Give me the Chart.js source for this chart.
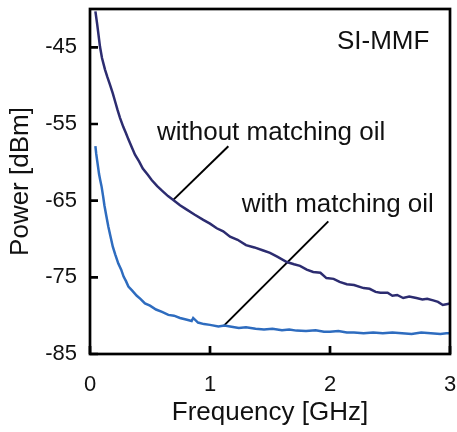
<!DOCTYPE html>
<html>
<head>
<meta charset="utf-8">
<script src="https://cdn.jsdelivr.net/npm/chart.js@4/dist/chart.umd.min.js"></script>
<style>
  html, body { margin: 0; padding: 0; background: #fff; }
  #wrap { width: 457px; height: 432px; }
</style>
</head>
<body>
<div id="wrap"><canvas id="chart" width="457" height="432"></canvas></div>
<script>
// Frequency [GHz] / Power [dBm]
const freqWithout = [0.045, 0.06, 0.072, 0.083, 0.1, 0.125, 0.145, 0.167, 0.19, 0.21, 0.23, 0.25, 0.278, 0.3, 0.32, 0.35, 0.375,
  0.41, 0.44, 0.48, 0.514, 0.56, 0.6, 0.65, 0.694, 0.75, 0.8, 0.87, 0.944, 1.0, 1.056, 1.11, 1.167, 1.23, 1.3, 1.37, 1.444,
  1.5, 1.56, 1.64, 1.7, 1.75, 1.806, 1.86, 1.92, 1.97, 2.03, 2.08, 2.14, 2.2, 2.28, 2.33, 2.38, 2.42, 2.48, 2.52, 2.56,
  2.61, 2.66, 2.72, 2.77, 2.81, 2.86, 2.9, 2.94, 2.97, 3.0];
const powerWithout = [-40.3, -42.0, -43.5, -44.9, -46.4, -47.9, -48.9, -49.9, -51.0, -52.1, -53.2, -54.2, -55.4, -56.2, -57.0, -58.1, -59.0,
  -59.9, -60.8, -61.6, -62.3, -63.1, -63.7, -64.4, -64.9, -65.6, -66.1, -66.8, -67.5, -68.0, -68.6, -69.0, -69.7, -70.1, -70.8, -71.1, -71.5,
  -71.8, -72.3, -73.0, -73.3, -73.5, -74.0, -74.3, -74.4, -75.1, -75.2, -75.6, -75.9, -76.0, -76.4, -76.5, -76.9, -77.0, -77.0, -77.4, -77.3,
  -77.7, -77.5, -77.7, -77.9, -77.8, -78.0, -78.2, -78.6, -78.5, -78.4];

const freqWith = [0.045, 0.052, 0.06, 0.068, 0.075, 0.085, 0.097, 0.11, 0.12, 0.135, 0.153, 0.17, 0.19, 0.21, 0.236, 0.26, 0.28, 0.3,
  0.32, 0.35, 0.39, 0.42, 0.458, 0.5, 0.55, 0.6, 0.653, 0.7, 0.75, 0.8, 0.847, 0.86, 0.9, 0.95, 1.0, 1.07, 1.12, 1.167, 1.24,
  1.3, 1.38, 1.45, 1.52, 1.6, 1.66, 1.72, 1.8, 1.88, 1.95, 2.0, 2.07, 2.14, 2.2, 2.28, 2.36, 2.44, 2.52, 2.6, 2.68, 2.76,
  2.84, 2.92, 2.97, 3.0];
const powerWith = [-57.9, -58.9, -59.8, -60.7, -61.5, -62.3, -63.2, -64.5, -65.6, -66.9, -68.4, -69.6, -71.0, -72.0, -73.2, -74.0, -74.9, -75.5,
  -76.2, -76.7, -77.4, -77.8, -78.4, -78.7, -79.2, -79.5, -79.9, -80.0, -80.3, -80.5, -80.7, -80.3, -80.9, -81.1, -81.2, -81.4, -81.3, -81.4, -81.6,
  -81.5, -81.7, -81.8, -81.7, -81.9, -81.8, -81.95, -82.0, -81.9, -82.1, -82.1, -82.0, -82.2, -82.2, -82.3, -82.2, -82.3, -82.2, -82.3, -82.4, -82.2,
  -82.3, -82.4, -82.3, -82.3];

const xTicks = [0, 1, 2, 3];
const yTicks = [-85, -75, -65, -55, -45];

// leader lines and labels (data coords)
const leaderWithout = [[0.694, -64.9], [1.153, -57.9]];
const leaderWith = [[1.11, -81.4], [1.986, -67.7]];
const labels = [
  { text: 'without matching oil', x: 0.558, y: -57.1, align: 'left' },
  { text: 'with matching oil', x: 1.264, y: -66.5, align: 'left' },
  { text: 'SI-MMF', x: 2.828, y: -45.2, align: 'right' }
];

const FONT = "'Liberation Sans', Arial, sans-serif";

function toPoints(xs, ys) {
  return xs.map((x, i) => ({ x: x, y: ys[i] }));
}

const frame = {
  id: 'frame',
  afterDatasetsDraw(chart) {
    const { ctx, chartArea: a, scales } = chart;
    ctx.save();
    ctx.strokeStyle = '#000';
    ctx.lineWidth = 2.7;
    ctx.strokeRect(a.left, a.top, a.right - a.left, a.bottom - a.top);
    // inward ticks
    ctx.beginPath();
    xTicks.forEach(v => {
      const px = scales.x.getPixelForValue(v);
      ctx.moveTo(px, a.bottom);
      ctx.lineTo(px, a.bottom - 8);
    });
    yTicks.forEach(v => {
      const py = scales.y.getPixelForValue(v);
      ctx.moveTo(a.left, py);
      ctx.lineTo(a.left + 8, py);
    });
    ctx.stroke();
    // labels
    ctx.fillStyle = '#111';
    ctx.font = '26px ' + FONT;
    ctx.textBaseline = 'alphabetic';
    labels.forEach(l => {
      ctx.textAlign = l.align;
      ctx.fillText(l.text, scales.x.getPixelForValue(l.x), scales.y.getPixelForValue(l.y));
    });
    ctx.restore();
  }
};

new Chart(document.getElementById('chart'), {
  type: 'scatter',
  data: {
    datasets: [
      { data: toPoints(freqWithout, powerWithout), borderColor: '#2c2c70', borderWidth: 2.5, showLine: true, pointRadius: 0, tension: 0 },
      { data: toPoints(freqWith, powerWith), borderColor: '#2e6cbf', borderWidth: 2.5, showLine: true, pointRadius: 0, tension: 0 },
      { data: leaderWithout.map(p => ({ x: p[0], y: p[1] })), borderColor: '#000', borderWidth: 2, showLine: true, pointRadius: 0 },
      { data: leaderWith.map(p => ({ x: p[0], y: p[1] })), borderColor: '#000', borderWidth: 2, showLine: true, pointRadius: 0 }
    ]
  },
  options: {
    responsive: false,
    animation: false,
    layout: { padding: { top: 9, right: 7, left: 0, bottom: 0 } },
    plugins: { legend: { display: false }, tooltip: { enabled: false } },
    scales: {
      x: {
        type: 'linear', min: 0, max: 3,
        afterBuildTicks: s => { s.ticks = xTicks.map(v => ({ value: v })); },
        afterFit: s => { s.height = 78; s.paddingLeft = 0; s.paddingRight = 0; },
        grid: { display: false, drawTicks: false },
        border: { display: false },
        ticks: { color: '#111', font: { family: FONT, size: 22 }, padding: 18 },
        title: { display: true, text: 'Frequency [GHz]', color: '#111', font: { family: FONT, size: 26 }, padding: { top: 0, bottom: 4 } }
      },
      y: {
        type: 'linear', min: -85, max: -40,
        afterBuildTicks: s => { s.ticks = yTicks.map(v => ({ value: v })); },
        afterFit: s => { s.width = 90; s.paddingTop = 0; s.paddingBottom = 0; },
        grid: { display: false, drawTicks: false },
        border: { display: false },
        ticks: { color: '#111', font: { family: FONT, size: 22 }, padding: 13 },
        title: { display: true, text: 'Power [dBm]', color: '#111', font: { family: FONT, size: 26 }, padding: { top: 5, bottom: 0 } }
      }
    }
  },
  plugins: [frame]
});
</script>
</body>
</html>
